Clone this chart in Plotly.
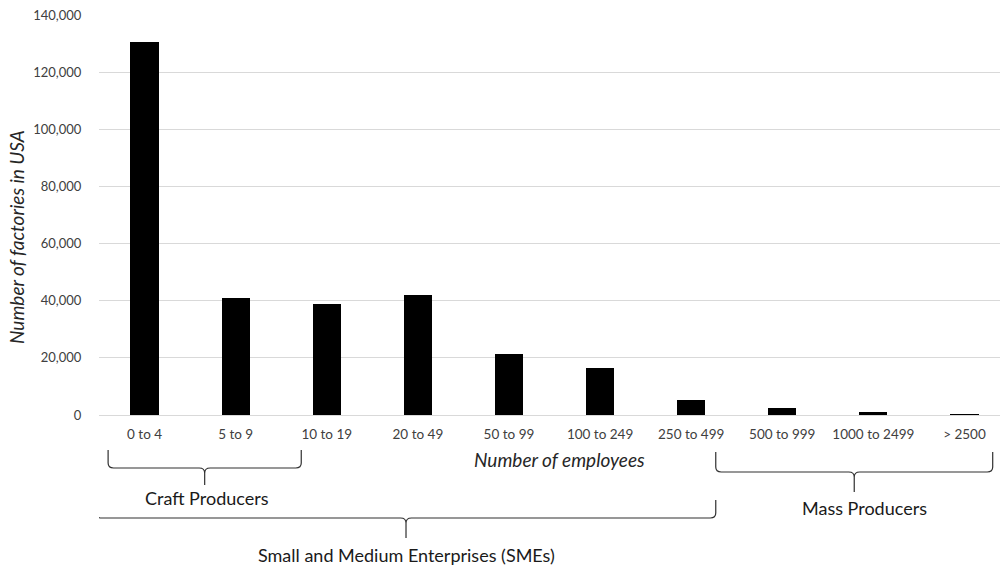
import plotly.graph_objects as go

# Factory counts by establishment size (number of employees)
categories = ["0 to 4", "5 to 9", "10 to 19", "20 to 49", "50 to 99",
              "100 to 249", "250 to 499", "500 to 999", "1000 to 2499", "> 2500"]
factories = [130700, 40800, 39000, 41900, 21200, 16300, 5400, 2300, 900, 100]

y_ticks = [0, 20000, 40000, 60000, 80000, 100000, 120000, 140000]

# Producer groups drawn as braces under the category axis:
# (label, first category edge, last category edge, top/mid/tip/label pixel rows, label shift)
groups = [
    ("Craft Producers", -0.40, 1.72, 450, 468, 485, 498, 0.03),
    ("Small and Medium Enterprises (SMEs)", -0.53, 6.27, 500, 518, 538, 555, 0.0),
    ("Mass Producers", 6.27, 9.31, 452, 472, 492, 508, 0.11),
]

FONT = "Lato, 'Open Sans', sans-serif"
W, H = 1000, 567
M_L, M_R, M_T, M_B = 99, 0, 15, 152
PLOT_H = H - M_T - M_B


def py(px_row):
    """Convert a pixel row of the page into paper y."""
    return (H - M_B - px_row) / PLOT_H


fig = go.Figure()
fig.add_trace(go.Bar(
    x=list(range(len(categories))),
    y=factories,
    width=0.31,
    marker=dict(color="#000000", line=dict(width=0)),
    hoverinfo="skip",
))

shapes = []
annotations = []
for label, x0, x1, top, mid, tip, text_row, text_dx in groups:
    xc = (x0 + x1) / 2
    r = 0.06
    yt, ym, yp = py(top), py(mid), py(tip)
    yq = py(mid + 5)
    path = (
        f"M {x0},{yt} L {x0},{py(mid - 5)} Q {x0},{ym} {x0 + r},{ym} "
        f"L {xc - r},{ym} Q {xc},{ym} {xc},{yq} L {xc},{yp} "
        f"M {xc},{yq} Q {xc},{ym} {xc + r},{ym} "
        f"L {x1 - r},{ym} Q {x1},{ym} {x1},{py(mid - 5)} L {x1},{yt}"
    )
    shapes.append(dict(type="path", path=path, xref="x", yref="paper",
                       line=dict(color="#303030", width=1.2)))
    annotations.append(dict(x=xc + text_dx, y=py(text_row), xref="x", yref="paper",
                            text=label, showarrow=False, xanchor="center",
                            yanchor="middle",
                            font=dict(family=FONT, size=18, color="#1a1a1a")))

# Axis titles
annotations.append(dict(x=4.56, y=py(459), xref="x", yref="paper",
                        text="<i>Number of employees</i>", showarrow=False,
                        xanchor="center", yanchor="middle",
                        font=dict(family=FONT, size=19, color="#262626")))
annotations.append(dict(x=(17 - M_L) / (W - M_L - M_R), y=py(237),
                        xref="paper", yref="paper",
                        text="<i>Number of factories in USA</i>", showarrow=False,
                        textangle=-90, xanchor="center", yanchor="middle",
                        font=dict(family=FONT, size=19, color="#262626")))

fig.update_layout(
    width=W, height=H,
    margin=dict(l=M_L, r=M_R, t=M_T, b=M_B, pad=0),
    paper_bgcolor="white", plot_bgcolor="white",
    showlegend=False,
    bargap=0,
    shapes=shapes,
    annotations=annotations,
    font=dict(family=FONT, color="#404040"),
)
fig.update_xaxes(
    tickmode="array", tickvals=list(range(len(categories))), ticktext=categories,
    range=[-0.5, 9.39], showgrid=False, zeroline=False,
    showline=True, linecolor="#d9d9d9", linewidth=1,
    ticks="outside", ticklen=7, tickcolor="rgba(0,0,0,0)",
    tickfont=dict(family=FONT, size=13.5, color="#404040"),
)
fig.update_yaxes(
    range=[0, 140000], tickvals=y_ticks, tickformat=",d",
    showgrid=True, gridcolor="#d9d9d9", gridwidth=1, zeroline=False,
    showline=False,
    ticks="outside", ticklen=14, tickcolor="rgba(0,0,0,0)",
    tickfont=dict(family=FONT, size=13, color="#404040"),
)

fig.write_html("out.html")
